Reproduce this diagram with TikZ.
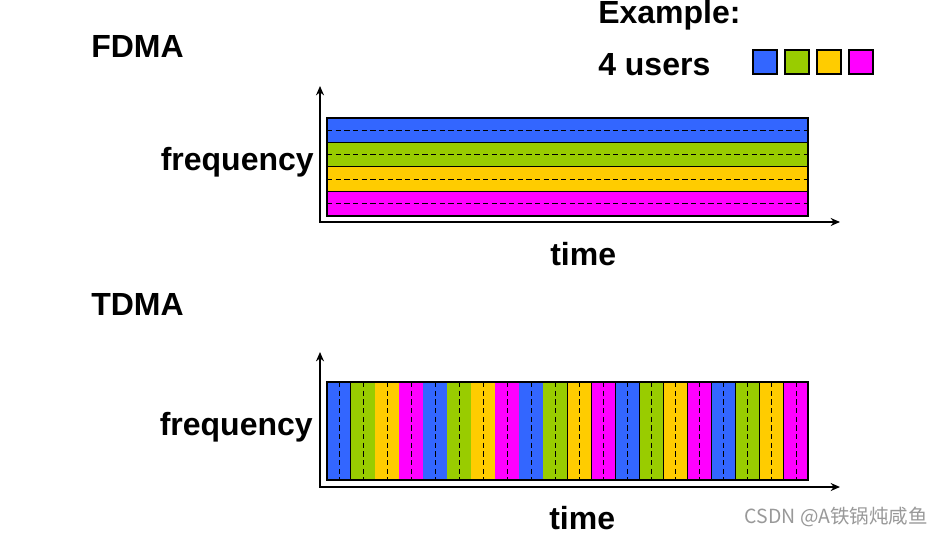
\documentclass[tikz,border=0pt]{standalone}
\usepackage{fontspec}
\setmainfont{Liberation Sans}
\newfontfamily\cjk{Noto Sans CJK SC}
\usetikzlibrary{arrows.meta}
\definecolor{ucol0}{HTML}{3366FF}
\definecolor{ucol1}{HTML}{99CC00}
\definecolor{ucol2}{HTML}{FFCC00}
\definecolor{ucol3}{HTML}{FF00FF}
\begin{document}
\begin{tikzpicture}[x=0.75pt,y=-0.75pt,
  lbl/.style={font=\fontsize{24}{28}\selectfont\bfseries, inner sep=0pt, anchor=base west},
  axis/.style={line width=2pt, line join=miter, {Stealth[length=7pt,width=6pt]}-{Stealth[length=7pt,width=6pt]}},
  edge/.style={draw=black, line width=0.9pt},
  sep/.style={line width=0.7pt, dash pattern=on 4pt off 2.5pt},
  sq/.style={draw=black, line width=0.9pt, minimum size=18pt, inner sep=0pt}]
\useasboundingbox[fill=white] (0,0) rectangle (944,535);
% texts
\node[lbl] (fdma) at (91,57) {FDMA};
\node[lbl] (ex) at (598,24) {Example:};
\node[lbl] (users) at (598,75) {4 users};
\node[lbl,anchor=base east] (f1) at (314,170) {frequency};
\node[lbl] (t1) at (550,265) {time};
\node[lbl] (tdma) at (91,315) {TDMA};
\node[lbl,anchor=base east] (f2) at (313,435) {frequency};
\node[lbl] (t2) at (549,529) {time};
% legend
\node[sq, fill=ucol0] (s1) at (765,62) {};
\node[sq, fill=ucol1] (s2) at (797,62) {};
\node[sq, fill=ucol2] (s3) at (829,62) {};
\node[sq, fill=ucol3] (s4) at (861,62) {};
% FDMA bands
\foreach \k in {0,1,2,3} {
  \pgfmathsetmacro\ya{118+\k*24.5}
  \pgfmathsetmacro\yb{\ya+24.5}
  \pgfmathsetmacro\ym{\ya+12.25}
  \fill[ucol\k] (327,\ya) rectangle (808,\yb);
  \draw[sep] (327,\ym) -- (808,\ym);
  \draw[edge] (327,\yb) -- (808,\yb);
}
\draw[edge] (327,118) rectangle (808,216);
% FDMA axes
\coordinate (o1) at (320,222);
\coordinate (y1) at (320,86);
\coordinate (x1) at (840,222);
\draw[axis] (y1) -- (o1) -- (x1);
% TDMA strips
\foreach \i in {0,...,19} {
  \pgfmathsetmacro\xa{327+\i*24.05}
  \pgfmathsetmacro\xb{\xa+24.05}
  \pgfmathsetmacro\xm{\xa+12.02}
  \pgfmathtruncatemacro\k{mod(\i,4)}
  \fill[ucol\k] (\xa,382) rectangle (\xb,480);
  \draw[sep] (\xm,382) -- (\xm,480);
  \draw[edge] (\xb,382) -- (\xb,480);
}
\draw[edge] (327,382) rectangle (808,480);
% TDMA axes
\coordinate (o2) at (320,487);
\coordinate (y2) at (320,352);
\coordinate (x2) at (840,487);
\draw[axis] (y2) -- (o2) -- (x2);
% watermark
\node[font=\cjk\fontsize{14.6}{17}\selectfont, text=black!40, anchor=base east, inner sep=0pt] (wm) at (928,523) {CSDN @A铁锅炖咸鱼};
\end{tikzpicture}
\end{document}
